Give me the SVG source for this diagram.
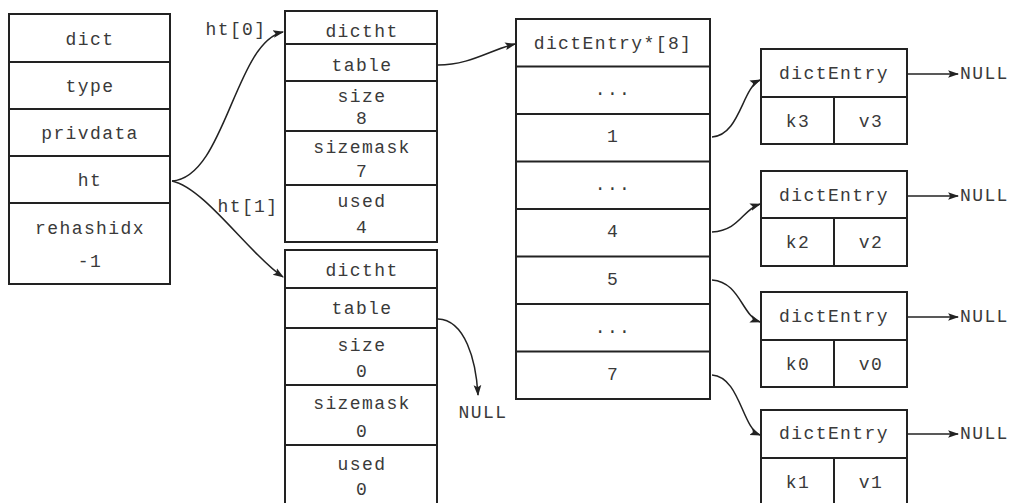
<svg xmlns="http://www.w3.org/2000/svg" width="1015" height="503" viewBox="0 0 1015 503">
<defs>
<style>
.box{fill:#fff;stroke:#222;stroke-width:2}
.ln{stroke:#222;stroke-width:2;fill:none}
.t{font-family:"Liberation Mono","DejaVu Sans Mono",monospace;font-size:18px;letter-spacing:1.4px;fill:#3a3a3a;text-anchor:middle;dominant-baseline:central}
.tl{font-family:"Liberation Mono","DejaVu Sans Mono",monospace;font-size:18px;letter-spacing:1.4px;fill:#3a3a3a;dominant-baseline:central}
.c{stroke:#222;stroke-width:1.5;fill:none;marker-end:url(#ah)}
</style>
<marker id="ah" viewBox="0 0 10 10" refX="9" refY="5" markerWidth="11" markerHeight="11" markerUnits="userSpaceOnUse" orient="auto"><path d="M0,1.5 L10,5 L0,8.5 L2,5 z" fill="#222"/></marker>
</defs>
<rect width="1015" height="503" fill="#fff"/>

<g id="dict">
<rect class="box" x="9" y="14" width="161" height="270"/>
<line class="ln" x1="9" y1="62" x2="170" y2="62"/>
<line class="ln" x1="9" y1="109" x2="170" y2="109"/>
<line class="ln" x1="9" y1="156" x2="170" y2="156"/>
<line class="ln" x1="9" y1="203" x2="170" y2="203"/>
<text class="t" x="90" y="40">dict</text>
<text class="t" x="90" y="87">type</text>
<text class="t" x="90" y="134">privdata</text>
<text class="t" x="90" y="181">ht</text>
<text class="t" x="90" y="229">rehashidx</text>
<text class="t" x="90" y="262">-1</text>
</g>

<g id="dictht0">
<rect class="box" x="285" y="11" width="152" height="231"/>
<line class="ln" x1="285" y1="44" x2="437" y2="44"/>
<line class="ln" x1="285" y1="81" x2="437" y2="81"/>
<line class="ln" x1="285" y1="131" x2="437" y2="131"/>
<line class="ln" x1="285" y1="185" x2="437" y2="185"/>
<text class="t" x="362" y="32">dictht</text>
<text class="t" x="362" y="66">table</text>
<text class="t" x="362" y="97">size</text>
<text class="t" x="362" y="119">8</text>
<text class="t" x="362" y="148">sizemask</text>
<text class="t" x="362" y="172">7</text>
<text class="t" x="362" y="202">used</text>
<text class="t" x="362" y="228">4</text>
</g>

<g id="dictht1">
<rect class="box" x="285" y="250" width="152" height="260"/>
<line class="ln" x1="285" y1="288" x2="437" y2="288"/>
<line class="ln" x1="285" y1="328" x2="437" y2="328"/>
<line class="ln" x1="285" y1="385" x2="437" y2="385"/>
<line class="ln" x1="285" y1="445" x2="437" y2="445"/>
<text class="t" x="362" y="271">dictht</text>
<text class="t" x="362" y="309">table</text>
<text class="t" x="362" y="346">size</text>
<text class="t" x="362" y="372">0</text>
<text class="t" x="362" y="404">sizemask</text>
<text class="t" x="362" y="432">0</text>
<text class="t" x="362" y="465">used</text>
<text class="t" x="362" y="490">0</text>
</g>

<g id="table">
<rect class="box" x="516" y="19" width="194" height="380"/>
<line class="ln" x1="516" y1="66.5" x2="710" y2="66.5"/>
<line class="ln" x1="516" y1="114" x2="710" y2="114"/>
<line class="ln" x1="516" y1="161.5" x2="710" y2="161.5"/>
<line class="ln" x1="516" y1="209" x2="710" y2="209"/>
<line class="ln" x1="516" y1="256.5" x2="710" y2="256.5"/>
<line class="ln" x1="516" y1="304" x2="710" y2="304"/>
<line class="ln" x1="516" y1="351.5" x2="710" y2="351.5"/>
<text class="t" x="613" y="44">dictEntry*[8]</text>
<text class="t" x="613" y="90">...</text>
<text class="t" x="613" y="137">1</text>
<text class="t" x="613" y="185">...</text>
<text class="t" x="613" y="232">4</text>
<text class="t" x="613" y="280">5</text>
<text class="t" x="613" y="328">...</text>
<text class="t" x="613" y="375">7</text>
</g>

<g id="entry3">
<rect class="box" x="761" y="49" width="146" height="95"/>
<line class="ln" x1="761" y1="97" x2="907" y2="97"/>
<line class="ln" x1="834" y1="97" x2="834" y2="144"/>
<text class="t" x="834" y="74">dictEntry</text>
<text class="t" x="798" y="122">k3</text>
<text class="t" x="871" y="122">v3</text>
</g>

<g id="entry2">
<rect class="box" x="761" y="171" width="146" height="95"/>
<line class="ln" x1="761" y1="218" x2="907" y2="218"/>
<line class="ln" x1="834" y1="218" x2="834" y2="266"/>
<text class="t" x="834" y="196">dictEntry</text>
<text class="t" x="798" y="243">k2</text>
<text class="t" x="871" y="243">v2</text>
</g>

<g id="entry0">
<rect class="box" x="761" y="292" width="146" height="95"/>
<line class="ln" x1="761" y1="340" x2="907" y2="340"/>
<line class="ln" x1="834" y1="340" x2="834" y2="387"/>
<text class="t" x="834" y="317">dictEntry</text>
<text class="t" x="798" y="365">k0</text>
<text class="t" x="871" y="365">v0</text>
</g>

<g id="entry1">
<rect class="box" x="761" y="410" width="146" height="100"/>
<line class="ln" x1="761" y1="458" x2="907" y2="458"/>
<line class="ln" x1="834" y1="458" x2="834" y2="510"/>
<text class="t" x="834" y="434">dictEntry</text>
<text class="t" x="798" y="483">k1</text>
<text class="t" x="871" y="483">v1</text>
</g>

<g id="connectors">
<path class="c" d="M172,181 C225,178 235,42 283,32"/>
<path class="c" d="M172,181 C205,188 250,255 283,277"/>
<path class="c" d="M438,65 C470,65 490,50 515,44"/>
<path class="c" d="M438,319 C465,320 476,360 478,395"/>
<path class="c" d="M712,137 C740,135 742,88 760,80"/>
<path class="c" d="M712,232 C740,230 742,210 760,204"/>
<path class="c" d="M712,280 C740,282 742,316 760,322"/>
<path class="c" d="M712,375 C740,377 742,428 760,435"/>
<path class="c" d="M907,74 L958,74"/>
<path class="c" d="M907,196 L958,196"/>
<path class="c" d="M907,317 L958,317"/>
<path class="c" d="M907,434 L958,434"/>
<text class="t" x="236" y="30">ht[0]</text>
<text class="t" x="248" y="207">ht[1]</text>
<text class="t" x="483" y="413">NULL</text>
<text class="tl" x="960" y="74">NULL</text>
<text class="tl" x="960" y="196">NULL</text>
<text class="tl" x="960" y="317">NULL</text>
<text class="tl" x="960" y="434">NULL</text>
</g>
</svg>
